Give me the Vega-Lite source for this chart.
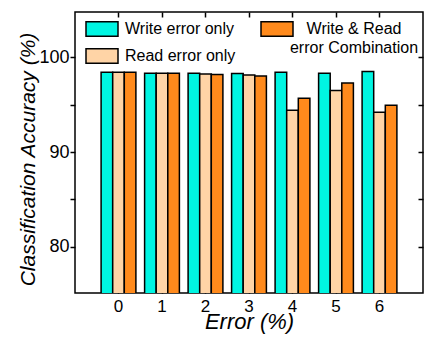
{
  "$schema": "https://vega.github.io/schema/vega-lite/v6.json",
  "width": 348,
  "height": 281,
  "autosize": "none",
  "padding": {"left": 75, "top": 12, "right": 11, "bottom": 46},
  "background": "white",
  "data": {"values": [
    {"error": "0", "series": "Write error only", "acc": 98.43},
    {"error": "0", "series": "Read error only", "acc": 98.43},
    {"error": "0", "series": "Write & Read error Combination", "acc": 98.43},
    {"error": "1", "series": "Write error only", "acc": 98.33},
    {"error": "1", "series": "Read error only", "acc": 98.33},
    {"error": "1", "series": "Write & Read error Combination", "acc": 98.33},
    {"error": "2", "series": "Write error only", "acc": 98.33},
    {"error": "2", "series": "Read error only", "acc": 98.25},
    {"error": "2", "series": "Write & Read error Combination", "acc": 98.2},
    {"error": "3", "series": "Write error only", "acc": 98.3},
    {"error": "3", "series": "Read error only", "acc": 98.15},
    {"error": "3", "series": "Write & Read error Combination", "acc": 98.04},
    {"error": "4", "series": "Write error only", "acc": 98.43},
    {"error": "4", "series": "Read error only", "acc": 94.41},
    {"error": "4", "series": "Write & Read error Combination", "acc": 95.68},
    {"error": "5", "series": "Write error only", "acc": 98.33},
    {"error": "5", "series": "Read error only", "acc": 96.49},
    {"error": "5", "series": "Write & Read error Combination", "acc": 97.3},
    {"error": "6", "series": "Write error only", "acc": 98.5},
    {"error": "6", "series": "Read error only", "acc": 94.2},
    {"error": "6", "series": "Write & Read error Combination", "acc": 94.94}
  ]},
  "layer": [
    {
      "mark": {"type": "bar", "stroke": "black", "strokeWidth": 1.5, "clip": true, "opacity": 1},
      "encoding": {
        "x": {"field": "error", "type": "nominal", "sort": ["0","1","2","3","4","5","6"],
          "scale": {"type": "band", "paddingInner": 0.2, "paddingOuter": 0.6},
          "axis": {"orient": "bottom", "title": "Error (%)", "titleFontStyle": "italic", "titleFontSize": 22, "titlePadding": -3,
            "labelAngle": 0, "labelFontSize": 17, "tickSize": -5, "labelPadding": 10, "bandPosition": 0.5}},
        "xOffset": {"field": "series", "type": "nominal",
          "sort": ["Write error only", "Read error only", "Write & Read error Combination"],
          "scale": {"paddingInner": 0, "paddingOuter": 0}},
        "y": {"field": "acc", "type": "quantitative",
          "scale": {"domain": [75.1, 104.8], "zero": false, "nice": false},
          "axis": {"orient": "left", "values": [80, 85, 90, 95, 100],
            "labelExpr": "datum.value % 10 == 0 ? datum.label : ''",
            "title": "Classification Accuracy (%)", "titleFontStyle": "italic", "titleFontSize": 21, "titlePadding": 0, "titleY": 147,
            "labelFontSize": 18, "tickSize": 5, "labelPadding": 1}},
        "color": {"field": "series", "type": "nominal",
          "scale": {"domain": ["Write error only", "Read error only", "Write & Read error Combination"],
                    "range": ["#00F5E2", "#FFD4A6", "#FF8A1C"]},
          "legend": {"orient": "none", "legendX": 10, "legendY": 0, "columns": 2, "title": null, "gridAlign": "none",
            "symbolType": "M-1,-0.45H1V0.45H-1Z", "symbolSize": 1024, "symbolStrokeColor": "black", "symbolStrokeWidth": 1.5,
            "symbolOpacity": 1, "labelFont": "Liberation Sans", "labelFontSize": 16, "labelColor": "black", "labelOffset": 6,
            "columnPadding": 22, "rowPadding": -17, "padding": 0, "labelLimit": 300,
            "labelExpr": "datum.label == 'Write & Read error Combination' ? ['Write & Read', 'error Combination'] : datum.label",
            "encode": {"labels": {"update": {
              "align": {"signal": "datum.value == 'Write & Read error Combination' ? 'center' : 'left'"},
              "dx": {"signal": "datum.value == 'Write & Read error Combination' ? 54 : 0"},
              "lineHeight": {"value": 19}
            }}}}}
      }
    },
    {
      "mark": {"type": "bar", "opacity": 0},
      "encoding": {
        "x": {"field": "error", "type": "nominal", "sort": ["0","1","2","3","4","5","6"],
          "axis": {"orient": "top", "labels": false, "title": null, "tickSize": -5, "bandPosition": 0.5}},
        "y": {"field": "acc", "type": "quantitative",
          "axis": {"orient": "right", "values": [80, 85, 90, 95, 100], "labels": false, "title": null, "tickSize": -5}}
      }
    }
  ],
  "resolve": {"axis": {"x": "independent", "y": "independent"}},
  "config": {
    "view": {"stroke": "black", "strokeWidth": 1.5},
    "axis": {"domain": false, "grid": false, "tickColor": "black", "tickWidth": 1.5,
      "labelFont": "Liberation Sans", "labelColor": "black", "titleFont": "Liberation Sans", "titleColor": "black", "titleFontWeight": "normal"},
    "text": {"font": "Liberation Sans"}
  }
}
